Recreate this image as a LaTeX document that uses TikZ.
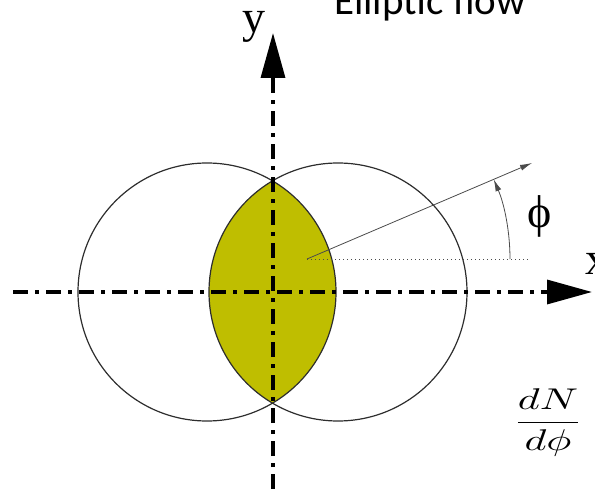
\documentclass[tikz,border=0pt]{standalone}
\usepackage{fontspec}
\usepackage{tikz}
\usetikzlibrary{arrows.meta,calc}
\newfontfamily\slidefont{Carlito}
\newfontfamily\labelfont{Liberation Serif}
\definecolor{efolive}{RGB}{191,190,0}
\definecolor{efgray}{RGB}{45,45,45}
\definecolor{efguide}{RGB}{75,75,75}

\begin{document}
\begin{tikzpicture}[
  x=1pt, y=-1pt,
  axis/.style={line width=3.4pt, dash pattern=on 15pt off 7pt on 4pt off 7pt,
               -{Triangle[length=45pt,width=24pt]}},
  ring/.style={draw=efgray, line width=1.2pt},
  guide/.style={draw=efguide, line width=0.8pt},
  tip/.style={-{Latex[length=12pt,width=6pt]}},
  axlabel/.style={font=\labelfont\fontsize{46}{50}\selectfont, inner sep=0pt}
]
\useasboundingbox (0,0) rectangle (595,489);

\coordinate (lc) at (207,292);
\coordinate (rc) at (338,292);

% overlap of the two nuclei
\begin{scope}
  \clip (lc) circle[radius=129];
  \fill[efolive] (rc) circle[radius=129];
\end{scope}
\draw[ring] (lc) circle[radius=129];
\draw[ring] (rc) circle[radius=129];

% axes
\coordinate (xa) at (13,292);
\coordinate (xb) at (592,292);
\coordinate (ya) at (273,489);
\coordinate (yb) at (273,33);
\draw[axis] (xa) -- (xb);
\draw[axis] (ya) -- (yb);

% emission direction and angle
\coordinate (o) at (307,259);
\coordinate (dir) at (532,163);
\coordinate (ref) at (530,259);
\draw[guide, tip] (o) -- (dir);
\draw[guide, dash pattern=on 1pt off 3pt] (o) -- (ref);
\draw[guide, tip] ($(o)+(203,0)$) arc[start angle=0, end angle=-23.1, radius=203];

\node[axlabel, anchor=base west] (ylab) at (242,33) {y};
\node[axlabel, anchor=base west] (xlab) at (585,275) {x};
\node[axlabel] (philab) at (540,216) {ϕ};
\node[font=\slidefont\fontsize{41}{46}\selectfont, inner sep=0pt, anchor=base west]
  (title) at (334,15) {Elliptic flow};
\node[inner sep=0pt, anchor=base] (dndphi) at (548,430)
  {\scalebox{4.2}[3.0]{$\displaystyle\frac{dN}{d\phi}$}};

\end{tikzpicture}
\end{document}
